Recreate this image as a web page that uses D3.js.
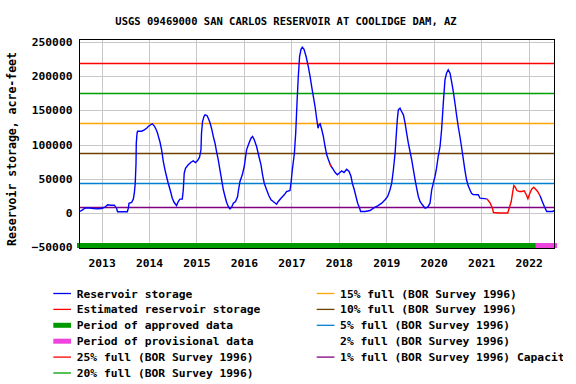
<!DOCTYPE html>
<html>
<head>
<meta charset="utf-8">
<script src="https://cdn.jsdelivr.net/npm/d3@7"></script>
<style>
body { margin:0; background:#fff; }
svg text { font-family: "DejaVu Sans Mono", monospace; font-weight: bold; fill:#000; }
</style>
</head>
<body>
<script>
// storage, acre-feet
var storage = [
 ["2012-07-16", 2200], ["2012-07-30", 3600], ["2012-08-26", 7000], ["2012-09-08", 7500],
 ["2012-10-16", 7000], ["2012-11-23", 6100], ["2013-01-01", 6600], ["2013-01-27", 8500],
 ["2013-02-16", 12000], ["2013-03-14", 11400], ["2013-04-09", 11400], ["2013-04-26", 7000],
 ["2013-05-04", 1750], ["2013-06-17", 1750], ["2013-07-18", 1750], ["2013-07-26", 7000],
 ["2013-07-31", 14300], ["2013-08-20", 15300], ["2013-09-02", 20200], ["2013-09-10", 28900],
 ["2013-09-17", 43500], ["2013-09-23", 72700], ["2013-09-25", 101900], ["2013-10-01", 116500],
 ["2013-10-05", 119400], ["2013-11-05", 119400], ["2013-11-26", 121500], ["2013-12-14", 123800],
 ["2013-12-26", 126300], ["2014-01-08", 128200], ["2014-01-26", 130200], ["2014-02-10", 127300],
 ["2014-02-24", 122300], ["2014-03-08", 116500], ["2014-03-13", 112700], ["2014-03-26", 104000],
 ["2014-04-08", 92300], ["2014-04-21", 75200], ["2014-05-04", 63100], ["2014-05-16", 53300],
 ["2014-05-29", 43500], ["2014-06-16", 31400], ["2014-06-29", 21600], ["2014-07-14", 15300],
 ["2014-08-01", 10900], ["2014-08-14", 16800], ["2014-08-27", 20200], ["2014-09-14", 20200],
 ["2014-09-22", 33900], ["2014-09-29", 58100], ["2014-10-09", 65400], ["2014-10-30", 70400],
 ["2014-11-20", 74200], ["2014-12-07", 76200], ["2014-12-25", 73700], ["2015-01-10", 76600],
 ["2015-01-25", 81500], ["2015-02-05", 92300], ["2015-02-09", 116500], ["2015-02-17", 133600],
 ["2015-02-28", 140900], ["2015-03-08", 143400], ["2015-03-23", 142300], ["2015-04-02", 138400],
 ["2015-04-15", 132100], ["2015-04-27", 123800], ["2015-05-11", 111700], ["2015-05-24", 101900],
 ["2015-06-05", 89800], ["2015-06-18", 77700], ["2015-07-01", 63100], ["2015-07-14", 48500],
 ["2015-07-27", 33900], ["2015-08-09", 24100], ["2015-08-21", 15800], ["2015-09-03", 9500],
 ["2015-09-16", 6100], ["2015-09-29", 8500], ["2015-10-12", 14300], ["2015-10-29", 16800],
 ["2015-11-14", 24100], ["2015-11-19", 31400], ["2015-12-02", 46000], ["2015-12-20", 55800],
 ["2016-01-04", 67900], ["2016-01-22", 92300], ["2016-02-09", 101900], ["2016-02-25", 109200],
 ["2016-03-08", 111700], ["2016-03-21", 106900], ["2016-04-08", 97100], ["2016-04-26", 82500],
 ["2016-05-12", 70400], ["2016-05-24", 55800], ["2016-06-06", 43500], ["2016-06-24", 33900],
 ["2016-07-12", 25100], ["2016-07-28", 19300], ["2016-08-14", 16800], ["2016-09-09", 12800],
 ["2016-09-22", 16800], ["2016-10-13", 21600], ["2016-11-07", 26600], ["2016-11-25", 31400],
 ["2016-12-21", 32800], ["2016-12-29", 43500], ["2017-01-08", 63100], ["2017-01-24", 87300],
 ["2017-02-03", 116500], ["2017-02-13", 160300], ["2017-02-23", 199300], ["2017-03-05", 228500],
 ["2017-03-16", 239100], ["2017-03-26", 242000], ["2017-04-08", 239100], ["2017-04-24", 228500],
 ["2017-05-11", 213900], ["2017-05-25", 199300], ["2017-06-06", 184700], ["2017-06-19", 170100],
 ["2017-07-02", 155500], ["2017-07-14", 138400], ["2017-07-25", 123800], ["2017-08-02", 128800],
 ["2017-08-10", 130200], ["2017-08-22", 122300], ["2017-09-04", 111700], ["2017-09-17", 97100],
 ["2017-09-30", 85000], ["2017-10-13", 77700], ["2017-10-26", 71200], ["2017-11-03", 68000],
 ["2017-11-13", 65400], ["2017-12-04", 59100], ["2017-12-21", 55800], ["2018-01-03", 58100],
 ["2018-01-23", 61600], ["2018-02-10", 59100], ["2018-03-02", 63900], ["2018-03-21", 60600],
 ["2018-04-05", 53300], ["2018-04-15", 43500], ["2018-04-30", 33900], ["2018-05-13", 24100],
 ["2018-05-26", 14300], ["2018-06-08", 8000], ["2018-06-18", 2200], ["2018-07-22", 2200],
 ["2018-08-30", 3600], ["2018-09-24", 7000], ["2018-10-27", 10500], ["2018-11-27", 14300],
 ["2018-12-23", 19300], ["2019-01-12", 24100], ["2019-01-30", 33900], ["2019-02-12", 43500],
 ["2019-02-25", 63100], ["2019-03-10", 87300], ["2019-03-20", 116500], ["2019-03-27", 136000],
 ["2019-04-04", 150700], ["2019-04-17", 153000], ["2019-04-25", 149600], ["2019-05-13", 143400],
 ["2019-05-26", 131100], ["2019-06-07", 116500], ["2019-06-20", 101900], ["2019-07-03", 89800],
 ["2019-07-16", 77700], ["2019-07-29", 63100], ["2019-08-11", 48500], ["2019-08-23", 36200],
 ["2019-09-05", 24100], ["2019-09-18", 16800], ["2019-10-06", 12000], ["2019-10-27", 7000],
 ["2019-11-16", 8500], ["2019-12-04", 14300], ["2019-12-17", 33900], ["2019-12-29", 43500],
 ["2020-01-11", 53300], ["2020-01-23", 65400], ["2020-02-05", 82500], ["2020-02-19", 97100],
 ["2020-03-02", 121500], ["2020-03-15", 160300], ["2020-03-28", 194500], ["2020-04-09", 204100],
 ["2020-04-22", 209100], ["2020-05-06", 204100], ["2020-05-18", 192000], ["2020-05-31", 177400],
 ["2020-06-13", 160300], ["2020-06-25", 143400], ["2020-07-08", 126300], ["2020-07-21", 111700],
 ["2020-08-02", 97100], ["2020-08-15", 80000], ["2020-08-28", 63100], ["2020-09-10", 48500],
 ["2020-09-23", 39700], ["2020-10-06", 33900], ["2020-10-18", 28900], ["2020-10-31", 27000],
 ["2020-12-09", 26600], ["2020-12-23", 21600], ["2021-02-12", 20700], ["2021-02-20", 19300],
 ["2021-03-11", 14300], ["2021-03-28", 7000], ["2021-04-05", 700], ["2021-05-14", 0],
 ["2021-07-24", 0], ["2021-08-04", 7000], ["2021-08-20", 16800], ["2021-08-30", 28900],
 ["2021-09-09", 40100], ["2021-09-20", 37700], ["2021-10-02", 32800], ["2021-10-21", 31400],
 ["2021-11-10", 31400], ["2021-11-28", 32400], ["2021-12-14", 26600], ["2021-12-26", 20700],
 ["2022-01-06", 26600], ["2022-01-24", 34700], ["2022-02-09", 37700], ["2022-02-24", 34700],
 ["2022-03-11", 31400], ["2022-03-30", 25100], ["2022-04-16", 16800], ["2022-05-02", 9500],
 ["2022-05-20", 2200], ["2022-07-03", 2200], ["2022-07-18", 3600]
];

var estimatedPeriods = [["2017-10-26", "2017-11-03"], ["2021-02-12", "2022-03-30"]];
var approvedPeriod = ["2012-07-15", "2022-03-14"];
var provisionalPeriod = ["2022-03-14", "2022-07-19"];

// BOR 1996 survey capacity levels
var levelNames = ["25%", "20%", "15%", "10%", "5%", "2%", "1%"];
var levelValues = [219250, 175400, 131550, 87700, 43850, 17540, 8770];
var levelColors = ["#ff0000", "#00a000", "#ffa500", "#704000", "#0080d0", "#ffffff", "#800080"];

var yTicks = [-50000, 0, 50000, 100000, 150000, 200000, 250000];
var xDomain = ["2012-07-15", "2022-07-19"];

var legendLeft = ["Reservoir storage", "Estimated reservoir storage", "Period of approved data",
  "Period of provisional data", "25% full (BOR Survey 1996)", "20% full (BOR Survey 1996)"];
var legendRight = ["15% full (BOR Survey 1996)", "10% full (BOR Survey 1996)", "5% full (BOR Survey 1996)",
  "2% full (BOR Survey 1996)", "1% full (BOR Survey 1996) Capacity"];

var parse = d3.timeParse("%Y-%m-%d");
var data = storage.map(function(d) { return {date: parse(d[0]), value: d[1]}; });
var est = estimatedPeriods.map(function(p) { return [parse(p[0]), parse(p[1])]; });

function inEst(d, strict) {
  return est.some(function(p) {
    return strict ? (d.date > p[0] && d.date < p[1]) : (d.date >= p[0] && d.date <= p[1]);
  });
}

var W = 576, H = 384;
var plot = {left: 79.5, right: 554.5, top: 39.5, bottom: 248.5};

var svg = d3.select("body").append("svg")
  .attr("width", W).attr("height", H);

var x = d3.scaleTime()
  .domain(xDomain.map(parse))
  .range([plot.left, plot.right]);

var y = d3.scaleLinear()
  .domain([-51840, 253360])
  .range([plot.bottom, plot.top]);

svg.append("defs").append("clipPath").attr("id", "clip")
  .append("rect")
  .attr("x", plot.left).attr("y", plot.top)
  .attr("width", plot.right - plot.left).attr("height", plot.bottom - plot.top);

svg.select("defs").append("clipPath").attr("id", "legclip")
  .append("rect").attr("x", 0).attr("y", 0).attr("width", 563).attr("height", H);

// title
svg.append("text")
  .attr("x", 286).attr("y", 24.5)
  .attr("text-anchor", "middle")
  .style("font-size", "10.5px")
  .text("USGS 09469000 SAN CARLOS RESERVOIR AT COOLIDGE DAM, AZ");

// grid
var years = d3.timeYear.range(x.domain()[0], x.domain()[1]);
svg.append("g").selectAll("line").data(years).enter().append("line")
  .attr("x1", function(d) { return Math.round(x(d)) + 0.5; })
  .attr("x2", function(d) { return Math.round(x(d)) + 0.5; })
  .attr("y1", plot.top).attr("y2", plot.bottom)
  .attr("stroke", "#c8c8c8");

svg.append("g").selectAll("line").data(yTicks).enter().append("line")
  .attr("x1", plot.left).attr("x2", plot.right)
  .attr("y1", function(d) { return Math.round(y(d)) + 0.5; })
  .attr("y2", function(d) { return Math.round(y(d)) + 0.5; })
  .attr("stroke", "#c8c8c8");

// capacity lines
svg.append("g").selectAll("line").data(levelValues).enter().append("line")
  .attr("x1", plot.left).attr("x2", plot.right)
  .attr("y1", function(d) { return Math.round(y(d)) + 0.5; })
  .attr("y2", function(d) { return Math.round(y(d)) + 0.5; })
  .attr("stroke", function(d, i) { return levelColors[i]; })
  .attr("stroke-width", 1.3);

// storage lines
var g = svg.append("g").attr("clip-path", "url(#clip)");
var line = d3.line()
  .x(function(d) { return x(d.date); })
  .y(function(d) { return y(d.value); });

g.append("path")
  .attr("d", line.defined(function(d) { return !inEst(d, true); })(data))
  .attr("fill", "none").attr("stroke", "#0000ff").attr("stroke-width", 1.4);

g.append("path")
  .attr("d", line.defined(function(d) { return inEst(d, false); })(data))
  .attr("fill", "none").attr("stroke", "#ff0000").attr("stroke-width", 1.4);

// approval periods
var barY = y(-47500);
svg.append("line")
  .attr("x1", x(parse(approvedPeriod[0]))).attr("x2", x(parse(approvedPeriod[1])))
  .attr("y1", barY).attr("y2", barY)
  .attr("stroke", "#009900").attr("stroke-width", 5).attr("stroke-linecap", "square");
svg.append("line")
  .attr("x1", x(parse(provisionalPeriod[0]))).attr("x2", x(parse(provisionalPeriod[1])))
  .attr("y1", barY).attr("y2", barY)
  .attr("stroke", "#ee44dd").attr("stroke-width", 5).attr("stroke-linecap", "square");

// frame
svg.append("rect")
  .attr("x", plot.left).attr("y", plot.top)
  .attr("width", plot.right - plot.left).attr("height", plot.bottom - plot.top)
  .attr("fill", "none").attr("stroke", "#000");

// axes
var xAxis = d3.axisBottom(x).tickValues(years).tickSize(0).tickPadding(10.7)
  .tickFormat(d3.timeFormat("%Y"));
var yAxis = d3.axisLeft(y).tickValues(yTicks).tickSize(0).tickPadding(7)
  .tickFormat(d3.format("d"));

var gx = svg.append("g").attr("transform", "translate(0," + plot.bottom + ")").call(xAxis);
var gy = svg.append("g").attr("transform", "translate(" + plot.left + ",0)").call(yAxis);
[gx, gy].forEach(function(a) {
  a.select(".domain").remove();
  a.selectAll("text").style("font-size", "11.3px").attr("font-family", null);
});

svg.append("text")
  .attr("transform", "translate(15.5,149) rotate(-90)")
  .attr("text-anchor", "middle")
  .style("font-size", "11.5px")
  .text("Reservoir storage, acre-feet");

// legend
var leftColors = ["#0000ff", "#ff0000", "#009900", "#ee44dd", levelColors[0], levelColors[1]];
var leftWidths = [1.3, 1.3, 5, 5, 1.3, 1.3];
var rightColors = levelColors.slice(2);

var leg = svg.append("g").attr("clip-path", "url(#legclip)");
function legendColumn(labels, colors, widths, x0) {
  var rows = leg.append("g").selectAll("g").data(labels).enter().append("g")
    .attr("transform", function(d, i) { return "translate(" + x0 + "," + (293.5 + i * 15.9) + ")"; });
  rows.append("line")
    .attr("x1", 0).attr("x2", 17.7).attr("y1", 0).attr("y2", 0)
    .attr("stroke", function(d, i) { return colors[i]; })
    .attr("stroke-width", function(d, i) { return widths ? widths[i] : 1.3; });
  rows.append("text")
    .attr("x", 23.4).attr("y", 4)
    .style("font-size", "11.3px")
    .text(function(d) { return d; });
}
legendColumn(legendLeft, leftColors, leftWidths, 53.3);
legendColumn(legendRight, rightColors, null, 316.7);
</script>
</body>
</html>
